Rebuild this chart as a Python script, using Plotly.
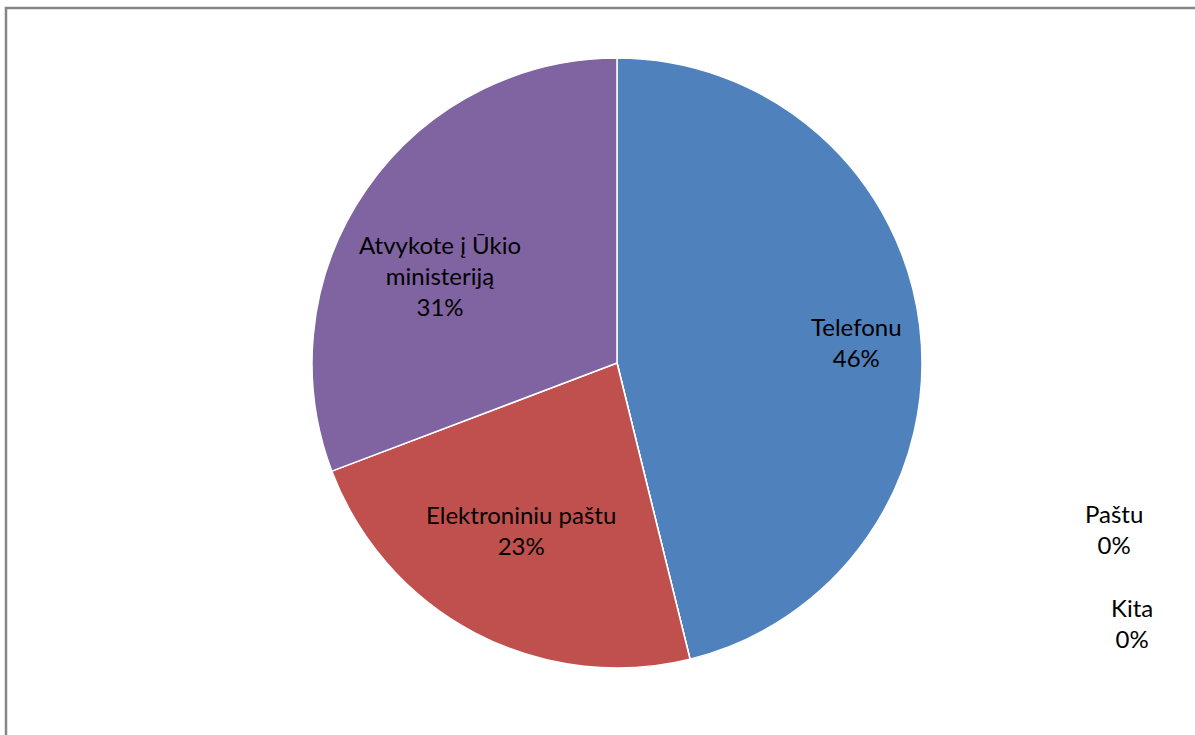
import plotly.graph_objects as go

# kaip kreipėsi — atsakymų skaičius
BUDAI = ["Telefonu", "Paštu", "Kita", "Elektroniniu paštu", "Atvykote į Ūkio<br>ministeriją"]
KIEKIS = [6, 0, 0, 3, 4]
SPALVOS = ["#4F81BD", "#9BBB59", "#4BACC6", "#C0504D", "#8064A2"]

# etikečių vietos (px nuo kairio viršutinio kampo), kaip Excel'io „best fit“
ETIKETES = {
    "Telefonu": (856, 342),
    "Paštu": (1114, 529),
    "Kita": (1132, 623),
    "Elektroniniu paštu": (521, 530),
    "Atvykote į Ūkio<br>ministeriją": (440, 275),
}

W, H = 1195, 735
cx, cy, r = 617, 363, 305


def px(x, y):
    return x / W, 1 - y / H


fig = go.Figure(go.Pie(
    labels=BUDAI, values=KIEKIS, sort=False, direction="clockwise", rotation=0,
    marker=dict(colors=SPALVOS, line=dict(color="white", width=1.5)),
    textinfo="none", hoverinfo="label+percent", showlegend=False,
    domain=dict(x=[(cx - r) / W, (cx + r) / W], y=[1 - (cy + r) / H, 1 - (cy - r) / H])))

viso = sum(KIEKIS)
for b, k in zip(BUDAI, KIEKIS):
    x, y = px(*ETIKETES[b])
    fig.add_annotation(x=x, y=y, xref="paper", yref="paper",
                       xanchor="center", yanchor="middle",
                       text=f"{b}<br>{round(100 * k / viso)}%", showarrow=False,
                       align="center", font=dict(size=24, color="black"))

# diagramos srities rėmelis
x0, y1 = px(6, 8)
fig.add_shape(type="rect", xref="paper", yref="paper",
              x0=x0, y0=-0.05, x1=1.05, y1=y1,
              line=dict(color="#868686", width=2.5))

fig.update_layout(width=W, height=H, margin=dict(l=0, r=0, t=0, b=0),
                  paper_bgcolor="white", plot_bgcolor="white",
                  font=dict(family="Lato, Calibri, sans-serif"))
# be naršyklės body paraštės, kad paveikslas prasidėtų nuo (0, 0)
fig.write_html("out.html", config={"displayModeBar": False},
               post_script="document.body.style.margin = '0';")
